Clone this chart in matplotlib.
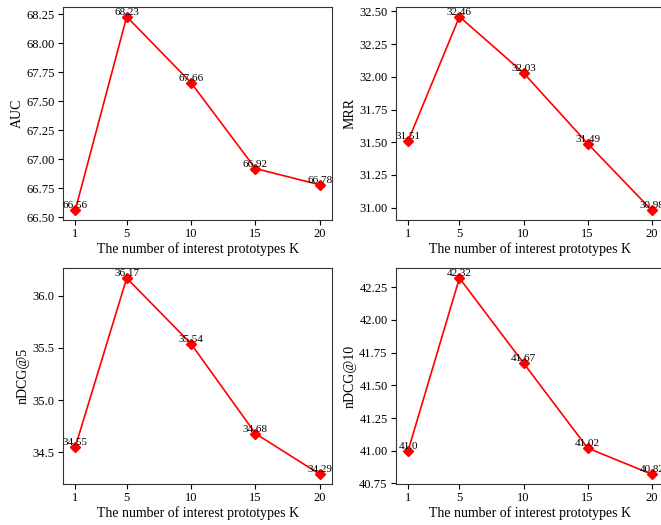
import matplotlib.pyplot as plt
from matplotlib.ticker import MultipleLocator

plt.rcParams["font.family"] = ["Liberation Serif", "DejaVu Serif"]

K = [1, 5, 10, 15, 20]
auc = [66.56, 68.23, 67.66, 66.92, 66.78]
mrr = [31.51, 32.46, 32.03, 31.49, 30.98]
ndcg5 = [34.55, 36.17, 35.54, 34.68, 34.29]
ndcg10 = [41.0, 42.32, 41.67, 41.02, 40.82]

# values, y label, y tick step, axes rect (right column runs off the canvas)
panels = [
    (auc, "AUC", 0.25, [0.0953, 0.581, 0.407, 0.4057]),
    (mrr, "MRR", 0.25, [0.599, 0.581, 0.4055, 0.4057]),
    (ndcg5, "nDCG@5", 0.5, [0.0953, 0.078, 0.407, 0.411]),
    (ndcg10, "nDCG@10", 0.25, [0.599, 0.078, 0.4055, 0.411]),
]

fig = plt.figure(figsize=(6.61, 5.25), dpi=100)
for vals, name, step, rect in panels:
    ax = fig.add_axes(rect)
    ax.plot(K, vals, color="red", marker="D", markersize=5, linewidth=1.2)
    for x, y in zip(K, vals):
        ax.text(x, y, str(y), ha="center", va="bottom", fontsize=8)
    ax.set_xticks(K)
    ax.yaxis.set_major_locator(MultipleLocator(step))
    ax.set_xlabel("The number of interest prototypes K", fontsize=10, labelpad=1.5)
    ax.set_ylabel(name, fontsize=10, labelpad=2)
    ax.tick_params(labelsize=9, pad=2.5)
    for sp in ax.spines.values():
        sp.set_color("#333333")

fig.savefig("out.png", dpi=100)
